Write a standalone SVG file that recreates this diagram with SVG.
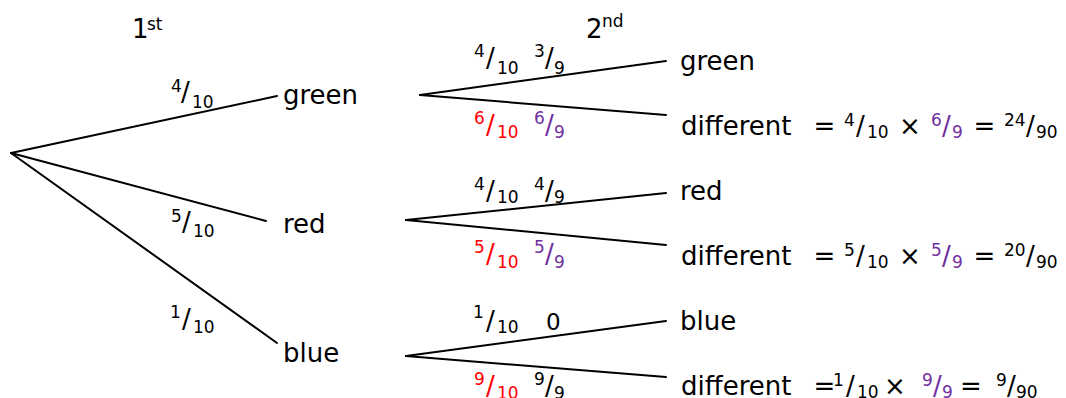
<svg xmlns="http://www.w3.org/2000/svg" width="1066" height="398" viewBox="0 0 1066 398">
<style>
text{font-family:"DejaVu Sans","Liberation Sans",sans-serif;fill:#000}
.m{font-size:26px}
.s{font-size:17px}
.r{fill:#ff0000}
.p{fill:#7030a0}
.c line{stroke:#000;stroke-width:2;stroke-linecap:round}
</style>
<rect width="1066" height="398" fill="#fff"/>
<g id="headers">
<text class="m" x="132" y="38">1<tspan class="s" x="147" y="30">st</tspan></text>
<text class="m" x="586" y="38">2<tspan class="s" x="602" y="27">nd</tspan></text>
</g>
<g class="c" id="connectors">
<line x1="11" y1="153" x2="277" y2="96"/>
<line x1="11" y1="153" x2="266" y2="221"/>
<line x1="11" y1="153" x2="277" y2="343"/>
<line x1="420" y1="95" x2="666" y2="61"/>
<line x1="420" y1="95" x2="666" y2="115"/>
<line x1="406" y1="220" x2="666" y2="193"/>
<line x1="406" y1="220" x2="666" y2="245"/>
<line x1="406" y1="356" x2="666" y2="321"/>
<line x1="406" y1="356" x2="666" y2="377"/>
</g>
<g id="edge-labels">
<text><tspan class="s" x="171" y="92">4</tspan><tspan class="m" x="181" y="101">/</tspan><tspan class="s" x="192" y="108">10</tspan></text>
<text><tspan class="s" x="171" y="222">5</tspan><tspan class="m" x="182" y="231">/</tspan><tspan class="s" x="193" y="237">10</tspan></text>
<text><tspan class="s" x="170" y="318">1</tspan><tspan class="m" x="182" y="328">/</tspan><tspan class="s" x="193" y="333">10</tspan></text>

<text><tspan class="s" x="474" y="57">4</tspan><tspan class="m" x="486" y="67">/</tspan><tspan class="s" x="497" y="74">10</tspan></text>
<text><tspan class="s" x="534" y="57">3</tspan><tspan class="m" x="545" y="67">/</tspan><tspan class="s" x="554" y="74">9</tspan></text>
<text class="r"><tspan class="s r" x="474" y="124">6</tspan><tspan class="m r" x="486" y="134">/</tspan><tspan class="s r" x="497" y="138">10</tspan></text>
<text class="p"><tspan class="s p" x="534" y="124">6</tspan><tspan class="m p" x="545" y="134">/</tspan><tspan class="s p" x="554" y="138">9</tspan></text>

<text><tspan class="s" x="474" y="190">4</tspan><tspan class="m" x="486" y="200">/</tspan><tspan class="s" x="497" y="203">10</tspan></text>
<text><tspan class="s" x="534" y="190">4</tspan><tspan class="m" x="545" y="200">/</tspan><tspan class="s" x="554" y="203">9</tspan></text>
<text><tspan class="s r" x="474" y="253">5</tspan><tspan class="m r" x="486" y="263">/</tspan><tspan class="s r" x="497" y="268">10</tspan></text>
<text><tspan class="s p" x="534" y="253">5</tspan><tspan class="m p" x="545" y="263">/</tspan><tspan class="s p" x="554" y="268">9</tspan></text>

<text><tspan class="s" x="473" y="318">1</tspan><tspan class="m" x="486" y="330">/</tspan><tspan class="s" x="497" y="333">10</tspan></text>
<text style="font-size:23px" x="546" y="330">0</text>
<text><tspan class="s r" x="474" y="385">9</tspan><tspan class="m r" x="486" y="395">/</tspan><tspan class="s r" x="497" y="399">10</tspan></text>
<text><tspan class="s" x="534" y="385">9</tspan><tspan class="m" x="545" y="395">/</tspan><tspan class="s" x="554" y="399">9</tspan></text>
</g>
<g id="node-root"><circle cx="11" cy="153" r="0.1" fill="none"/></g>
<g id="node-green1"><text class="m" x="283" y="104">green</text></g>
<g id="node-red1"><text class="m" x="283" y="233">red</text></g>
<g id="node-blue1"><text class="m" x="283" y="362">blue</text></g>
<g id="node-green2"><text class="m" x="680" y="70">green</text></g>
<g id="node-diff-green"><text class="m" x="681" y="135">different</text>
<text><tspan class="m" x="813.5" y="135">=</tspan><tspan class="s" x="844" y="126">4</tspan><tspan class="m" x="856" y="135">/</tspan><tspan class="s" x="867" y="138">10</tspan><tspan class="m" x="899" y="135">×</tspan><tspan class="s p" x="931" y="126">6</tspan><tspan class="m p" x="942" y="135">/</tspan><tspan class="s p" x="952" y="138">9</tspan><tspan class="m" x="973.5" y="135">=</tspan><tspan class="s" x="1004" y="126">24</tspan><tspan class="m" x="1026" y="135">/</tspan><tspan class="s" x="1036" y="138">90</tspan></text>
</g>
<g id="node-red2"><text class="m" x="680" y="200">red</text></g>
<g id="node-diff-red"><text class="m" x="681" y="265">different</text>
<text><tspan class="m" x="813.5" y="265">=</tspan><tspan class="s" x="844" y="256">5</tspan><tspan class="m" x="856" y="265">/</tspan><tspan class="s" x="867" y="268">10</tspan><tspan class="m" x="899" y="265">×</tspan><tspan class="s p" x="931" y="256">5</tspan><tspan class="m p" x="942" y="265">/</tspan><tspan class="s p" x="952" y="268">9</tspan><tspan class="m" x="973.5" y="265">=</tspan><tspan class="s" x="1004" y="256">20</tspan><tspan class="m" x="1026" y="265">/</tspan><tspan class="s" x="1036" y="268">90</tspan></text>
</g>
<g id="node-blue2"><text class="m" x="680" y="330">blue</text></g>
<g id="node-diff-blue"><text class="m" x="681" y="395">different</text>
<text><tspan class="m" x="813.5" y="395">=</tspan><tspan class="s" x="833" y="386">1</tspan><tspan class="m" x="846" y="395">/</tspan><tspan class="s" x="857" y="398">10</tspan><tspan class="m" x="884" y="395">×</tspan><tspan class="s p" x="922" y="386">9</tspan><tspan class="m p" x="933" y="395">/</tspan><tspan class="s p" x="942" y="398">9</tspan><tspan class="m" x="960" y="395">=</tspan><tspan class="s" x="996" y="386">9</tspan><tspan class="m" x="1007" y="395">/</tspan><tspan class="s" x="1016" y="398">90</tspan></text>
</g>
</svg>
